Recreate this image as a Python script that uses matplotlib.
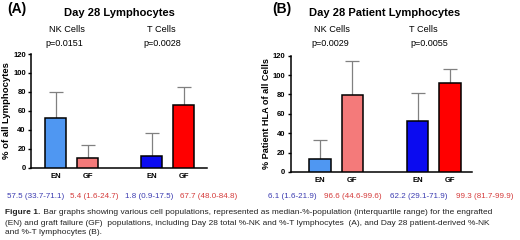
import matplotlib
matplotlib.use("Agg")
import matplotlib.pyplot as plt

plt.rcParams['font.family'] = ['Liberation Sans', 'DejaVu Sans']

# ---- data ----
groups = ["NK Cells", "T Cells"]
bar_labels = ["EN", "GF", "EN", "GF"]
bar_pos = [0, 1, 3, 4]

a_values = [52, 10, 12.7, 66.2]
a_err_top = [80, 23.6, 36.6, 85.5]
a_pvals = ["p=0.0151", "p=0.0028"]
a_stats = ["57.5 (33.7-71.1)", "5.4 (1.6-24.7)", "1.8 (0.9-17.5)", "67.7 (48.0-84.8)"]

b_values = [13.7, 79.1, 52.9, 91.5]
b_err_top = [33, 114.2, 81.2, 106]
b_pvals = ["p=0.0029", "p=0.0055"]
b_stats = ["6.1 (1.6-21.9)", "96.6 (44.6-99.6)", "62.2 (29.1-71.9)", "99.3 (81.7-99.9)"]

yticks = [0, 20, 40, 60, 80, 100, 120]

bar_colors_a = ["#4f97f2", "#f47a7a", "#0b0bf0", "#ff0000"]
bar_colors_b = ["#4f97f2", "#f47a7a", "#0b0bf0", "#ff0000"]
stat_colors = ["#3b3bb0", "#d43a3a", "#3b3bb0", "#d43a3a"]

W, H = 520, 240
fig = plt.figure(figsize=(W / 100, H / 100), dpi=100)


def px_axes(x0, y_top, x1, y_bot):
    return fig.add_axes([x0 / W, 1 - y_bot / H, (x1 - x0) / W, (y_bot - y_top) / H])


def draw_panel(ax, values, errs, colors, xlim, ylabel, label_x, label_fs):
    ax.bar(bar_pos, values, width=0.66, color=colors, edgecolor="black",
           linewidth=1.1, zorder=3)
    for x, v, e in zip(bar_pos, values, errs):
        ax.errorbar([x], [v], yerr=[[0], [e - v]], fmt="none", ecolor="#808080",
                    elinewidth=0.9, capsize=5.2, capthick=0.9, zorder=2)
    ax.set_xlim(*xlim)
    ax.set_ylim(0, 120)
    ax.set_yticks(yticks)
    ax.set_xticks(bar_pos)
    ax.set_xticklabels(bar_labels, fontsize=5.5, fontweight="bold")
    ax.tick_params(axis="x", length=0, pad=3.5)
    ax.tick_params(axis="y", length=2.5, width=1.0, labelsize=5.5, pad=1.2)
    for lab in ax.get_yticklabels():
        lab.set_fontweight("bold")
    for s in ["top", "right"]:
        ax.spines[s].set_visible(False)
    for s in ["left", "bottom"]:
        ax.spines[s].set_linewidth(1.1)
    ax.set_ylabel(ylabel, fontsize=label_fs, fontweight="bold")
    ax.yaxis.set_label_coords(label_x, 0.5)
    ax.patch.set_alpha(0)


axA = px_axes(31, 54, 207, 167.7)
draw_panel(axA, a_values, a_err_top, bar_colors_a, (-0.77, 4.73),
           "% of all Lymphocytes", -0.115, 6.8)
axB = px_axes(290.5, 55.7, 472, 172)
draw_panel(axB, b_values, b_err_top, bar_colors_b, (-0.9, 4.67),
           "% Patient HLA of all Cells", -0.108, 6.6)


def ftext(x, y, s, **kw):
    fig.text(x / W, 1 - y / H, s, ha="center", va="center", **kw)


# panel A headers
ftext(16.5, 8.5, "(A)", fontsize=10, fontweight="bold")
ftext(119, 13.5, "Day 28 Lymphocytes", fontsize=8, fontweight="bold")
ftext(66.5, 29, "NK Cells", fontsize=6.6)
ftext(161.7, 29, "T Cells", fontsize=6.6)
ftext(64, 44, a_pvals[0], fontsize=6.5)
ftext(162, 44, a_pvals[1], fontsize=6.5)

# panel B headers
ftext(282, 8.5, "(B)", fontsize=10, fontweight="bold")
ftext(385, 13.5, "Day 28 Patient Lymphocytes", fontsize=8, fontweight="bold")
ftext(331.7, 29, "NK Cells", fontsize=6.6)
ftext(423, 29, "T Cells", fontsize=6.6)
ftext(330.7, 44, b_pvals[0], fontsize=6.5)
ftext(429, 44, b_pvals[1], fontsize=6.5)

# stats rows
for xc, s, c in zip([36, 94, 149.5, 208.5], a_stats, stat_colors):
    ftext(xc, 196.5, s, fontsize=5.8, color=c)
for xc, s, c in zip([292, 353, 419, 484.5], b_stats, stat_colors):
    ftext(xc, 196.5, s, fontsize=5.8, color=c)

# caption
cap_color = "#222222"
cap_fs = 6.0
t1 = fig.text(5.3 / W, 1 - 212.7 / H, "Figure 1.", fontsize=cap_fs, fontweight="bold",
              color=cap_color, ha="left", va="center")
plt.annotate(" Bar graphs showing various cell populations, represented as median-%-population (interquartile range) for the engrafted",
             xy=(1, 0.5), xycoords=t1, ha="left", va="center",
             fontsize=cap_fs, color=cap_color, annotation_clip=False)
fig.text(5.3 / W, 1 - 223.3 / H,
         "(EN) and graft failure (GF)  populations, including Day 28 total %-NK and %-T lymphocytes  (A), and Day 28 patient-derived %-NK",
         fontsize=cap_fs, color=cap_color, ha="left", va="center")
fig.text(5.3 / W, 1 - 233 / H, "and %-T lymphocytes (B).",
         fontsize=cap_fs, color=cap_color, ha="left", va="center")

fig.savefig("out.png", dpi=100)
